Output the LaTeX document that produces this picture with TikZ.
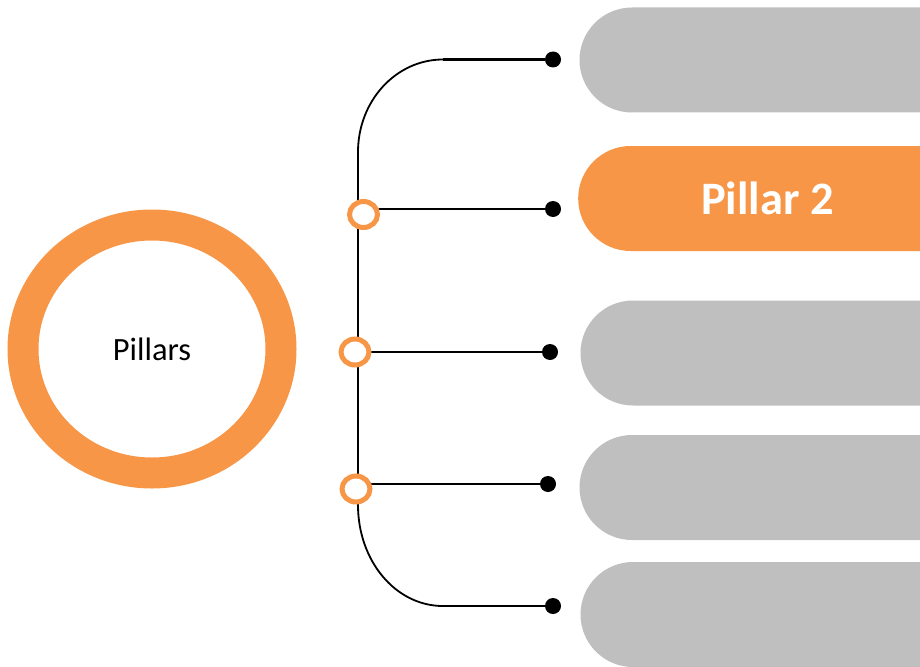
\documentclass[tikz,border=0pt]{standalone}
\usepackage{fontspec}
\setmainfont{Carlito}
\usetikzlibrary{shapes.geometric,shapes.misc}
\definecolor{accent}{HTML}{F79646}
\definecolor{pillgray}{HTML}{BFBFBF}
\tikzset{
  hubring/.style={ellipse, draw=accent, line width=31pt, minimum width=258pt, minimum height=248pt, inner sep=0pt, font=\fontsize{32.5}{36}\selectfont},
  pill/.style={rounded rectangle, rounded rectangle right arc=none, fill=pillgray, minimum width=376pt, minimum height=105pt, inner sep=0pt},
  activepill/.style={pill, fill=accent, text=white, font=\bfseries\fontsize{46.5}{50}\selectfont},
  enddot/.style={circle, fill=black, minimum size=16pt, inner sep=0pt},
  joint/.style={ellipse, draw=accent, line width=5pt, fill=white, minimum width=28pt, minimum height=26pt, inner sep=0pt},
  branch/.style={line width=2.4pt},
  curveline/.style={line width=1.8pt},
}
\begin{document}
\begin{tikzpicture}[x=1pt,y=-1pt]
\clip (0,0) rectangle (920,666);
\useasboundingbox (0,0) rectangle (920,666);

% central ring
\node[hubring] (hub) at (152,349) {Pillars};

% pillar bars (right side runs off the page)
\node[pill] (p1) at (767.5,60) {};
\node[activepill] (p2) at (767.5,198.5) {Pillar 2};
\node[pill] (p3) at (768.5,353) {};
\node[pill] (p4) at (767.5,487.5) {};
\node[pill] (p5) at (768.5,614.5) {};

% end dots
\node[enddot] (d1) at (553,59.5) {};
\node[enddot] (d2) at (553,209) {};
\node[enddot] (d3) at (550,352) {};
\node[enddot] (d4) at (548,484) {};
\node[enddot] (d5) at (553,606) {};

% spine points
\coordinate (sTop) at (358,152);
\coordinate (sBot) at (358,505);
\coordinate (tEnd) at (443,59.5);
\coordinate (bEnd) at (443,606);
\coordinate (s2) at (358,209);
\coordinate (s3) at (358,352);
\coordinate (s4) at (358,484);

% spine and rounded ends
\draw[branch] (sTop) -- (sBot);
\draw[curveline] (sTop) .. controls (358,100.9) and (396,59.5) .. (tEnd);
\draw[curveline] (sBot) .. controls (358,560.8) and (395.5,606) .. (bEnd);
\draw[branch] (tEnd) -- (d1);
\draw[branch] (bEnd) -- (d5);

% branches
\draw[branch] (s2) -- (d2);
\draw[branch] (s3) -- (d3);
\draw[branch] (s4) -- (d4);

% joints
\node[joint] (j2) at (363.5,214.5) {};
\node[joint] (j3) at (355,352) {};
\node[joint] (j4) at (356,489) {};
\end{tikzpicture}
\end{document}
